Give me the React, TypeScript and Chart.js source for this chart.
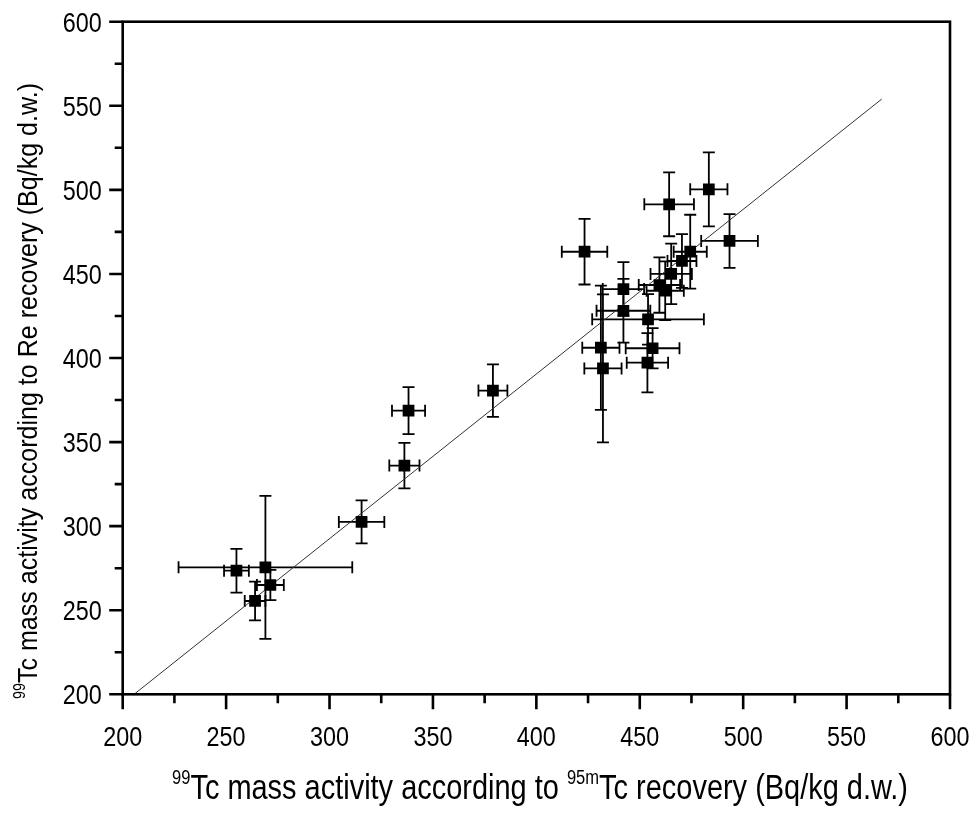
import React, { useEffect, useRef } from "react";
import { Chart, registerables } from "chart.js";

Chart.register(...registerables);

// ---- data ----
const xValues = [255, 269, 271.4, 264, 315.5, 336.2, 338.2, 379, 423.3, 464.2, 483.4, 493.4, 442.1, 442.1, 454, 431.2, 432.2, 456.2, 453.7, 459.5, 462.3, 465.2, 470.4, 474.4];
const yValues = [273.5, 275.5, 265, 255.5, 302.5, 336, 368.7, 380.6, 463.2, 491.4, 500.3, 469.6, 441, 428.1, 423, 406.1, 393.8, 405.8, 397.2, 443.4, 440, 450, 457.7, 463.2];
const xErrors = [6, 42, 6.5, 5, 11, 7.3, 8, 7, 11, 12, 9, 13.7, 10, 13, 27, 9, 9, 13, 10, 10, 9, 10, 7, 8];
const yErrors = [13, 42.5, 9, 11.5, 12.8, 13.5, 14, 15.6, 19.5, 19, 22, 16, 16, 19, 15, 37, 44, 12, 17.6, 16.5, 17.5, 18, 16, 22];

const fitX = [205.5, 567];
const fitY = [200, 554];

const axisMin = 200;
const axisMax = 600;
const majorTicks = [200, 250, 300, 350, 400, 450, 500, 550, 600];
const minorTicks = [225, 275, 325, 375, 425, 475, 525, 575];

const xTitleParts = [
  { t: "99", sup: true },
  { t: "Tc mass activity according to ", sup: false },
  { t: "95m", sup: true },
  { t: "Tc recovery (Bq/kg d.w.)", sup: false },
];
const yTitleParts = [
  { t: "99", sup: true },
  { t: "Tc mass activity according to Re recovery (Bq/kg d.w.)", sup: false },
];

const FONT_FAMILY = '"Liberation Sans Narrow", "Arial Narrow", "Liberation Sans", Arial, sans-serif';

function drawRich(ctx: CanvasRenderingContext2D, parts: { t: string; sup: boolean }[], size: number, supSize: number, targetWidth: number, raise: number) {
  const mainFont = `${size}px ${FONT_FAMILY}`;
  const supFont = `${supSize}px ${FONT_FAMILY}`;
  let total = 0;
  const widths: number[] = [];
  for (const p of parts) {
    ctx.font = p.sup ? supFont : mainFont;
    const w = ctx.measureText(p.t).width;
    widths.push(w);
    total += w;
  }
  const sx = targetWidth / total;
  ctx.scale(sx, 1);
  let x = 0;
  parts.forEach((p, i) => {
    ctx.font = p.sup ? supFont : mainFont;
    ctx.fillText(p.t, x, p.sup ? -raise : 0);
    x += widths[i];
  });
}

function drawNarrowLabel(ctx: CanvasRenderingContext2D, text: string, x: number, y: number, align: "center" | "right") {
  ctx.font = `28px ${FONT_FAMILY}`;
  const w = ctx.measureText(text).width;
  const target = text.length * 13;
  const sx = target / w;
  ctx.save();
  ctx.translate(x, y);
  ctx.scale(sx, 1);
  ctx.textAlign = "left";
  ctx.fillText(text, align === "center" ? -w / 2 : -w, 0);
  ctx.restore();
}

const customPlugin = {
  id: "customDecor",
  beforeDatasetsDraw(chart: any) {
    const ctx = chart.ctx as CanvasRenderingContext2D;
    const xs = chart.scales.x;
    const ys = chart.scales.y;
    const cap = 6;
    ctx.save();
    ctx.strokeStyle = "#000";
    ctx.lineWidth = 1.8;
    for (let i = 0; i < xValues.length; i++) {
      const cx = xs.getPixelForValue(xValues[i]);
      const cy = ys.getPixelForValue(yValues[i]);
      const x1 = xs.getPixelForValue(xValues[i] - xErrors[i]);
      const x2 = xs.getPixelForValue(xValues[i] + xErrors[i]);
      const y1 = ys.getPixelForValue(yValues[i] - yErrors[i]);
      const y2 = ys.getPixelForValue(yValues[i] + yErrors[i]);
      ctx.beginPath();
      ctx.moveTo(x1, cy); ctx.lineTo(x2, cy);
      ctx.moveTo(x1, cy - cap); ctx.lineTo(x1, cy + cap);
      ctx.moveTo(x2, cy - cap); ctx.lineTo(x2, cy + cap);
      ctx.moveTo(cx, y1); ctx.lineTo(cx, y2);
      ctx.moveTo(cx - cap, y1); ctx.lineTo(cx + cap, y1);
      ctx.moveTo(cx - cap, y2); ctx.lineTo(cx + cap, y2);
      ctx.stroke();
    }
    ctx.restore();
  },
  afterDraw(chart: any) {
    const ctx = chart.ctx as CanvasRenderingContext2D;
    const xs = chart.scales.x;
    const ys = chart.scales.y;
    const a = chart.chartArea;
    ctx.save();
    ctx.strokeStyle = "#000";
    ctx.lineWidth = 2.6;
    ctx.lineCap = "square";
    ctx.strokeRect(a.left, a.top, a.right - a.left, a.bottom - a.top);
    ctx.lineCap = "butt";
    ctx.beginPath();
    for (const v of majorTicks) {
      const px = xs.getPixelForValue(v);
      ctx.moveTo(px, a.bottom); ctx.lineTo(px, a.bottom + 15);
      const py = ys.getPixelForValue(v);
      ctx.moveTo(a.left, py); ctx.lineTo(a.left - 13.5, py);
    }
    for (const v of minorTicks) {
      const px = xs.getPixelForValue(v);
      ctx.moveTo(px, a.bottom); ctx.lineTo(px, a.bottom + 9);
      const py = ys.getPixelForValue(v);
      ctx.moveTo(a.left, py); ctx.lineTo(a.left - 8, py);
    }
    ctx.stroke();

    // tick labels
    ctx.fillStyle = "#000";
    ctx.textBaseline = "alphabetic";
    for (const v of majorTicks) {
      drawNarrowLabel(ctx, String(v), xs.getPixelForValue(v), a.bottom + 52, "center");
    }
    for (const v of majorTicks) {
      drawNarrowLabel(ctx, String(v), a.left - 21, ys.getPixelForValue(v) + 10, "right");
    }

    ctx.textAlign = "left";
    // x title
    ctx.save();
    ctx.translate(172, 799);
    drawRich(ctx, xTitleParts, 35, 20, 736, 15);
    ctx.restore();
    // y title
    ctx.save();
    ctx.translate(37, 699);
    ctx.rotate(-Math.PI / 2);
    drawRich(ctx, yTitleParts, 28, 16, 616, 12);
    ctx.restore();
    ctx.restore();
  },
};

export default function App() {
  const ref = useRef<HTMLCanvasElement | null>(null);
  useEffect(() => {
    if (!ref.current) return;
    const points = xValues.map((x, i) => ({ x, y: yValues[i] }));
    const line = fitX.map((x, i) => ({ x, y: fitY[i] }));
    const chart = new Chart(ref.current, {
      type: "scatter",
      data: {
        datasets: [
          {
            type: "line",
            data: line,
            borderColor: "#333",
            borderWidth: 1,
            pointRadius: 0,
            fill: false,
            order: 2,
          } as any,
          {
            type: "scatter",
            data: points,
            pointStyle: "rect",
            pointRadius: 8.3,
            pointHoverRadius: 8.3,
            backgroundColor: "#000",
            borderColor: "#000",
            borderWidth: 0,
            order: 1,
          },
        ],
      },
      options: {
        responsive: false,
        animation: false,
        events: [],
        layout: { autoPadding: false, padding: { left: 0, top: 21.7, right: 28, bottom: 0 } },
        plugins: { legend: { display: false }, tooltip: { enabled: false } },
        scales: {
          x: {
            type: "linear",
            min: axisMin,
            max: axisMax,
            border: { display: false },
            grid: { display: false, drawTicks: false },
            ticks: { display: false, padding: 0 },
            afterFit: (s: any) => { s.height = 818 - 694.3; },
          },
          y: {
            type: "linear",
            min: axisMin,
            max: axisMax,
            border: { display: false },
            grid: { display: false, drawTicks: false },
            ticks: { display: false, padding: 0 },
            afterFit: (s: any) => { s.width = 122.7; },
          },
        },
      },
      plugins: [customPlugin],
    });
    return () => chart.destroy();
  }, []);
  return (
    <div style={{ position: "fixed", left: 0, top: 0, width: 978, height: 818, background: "#fff" }}>
      <canvas ref={ref} width={978} height={818} style={{ width: 978, height: 818 }} />
    </div>
  );
}
